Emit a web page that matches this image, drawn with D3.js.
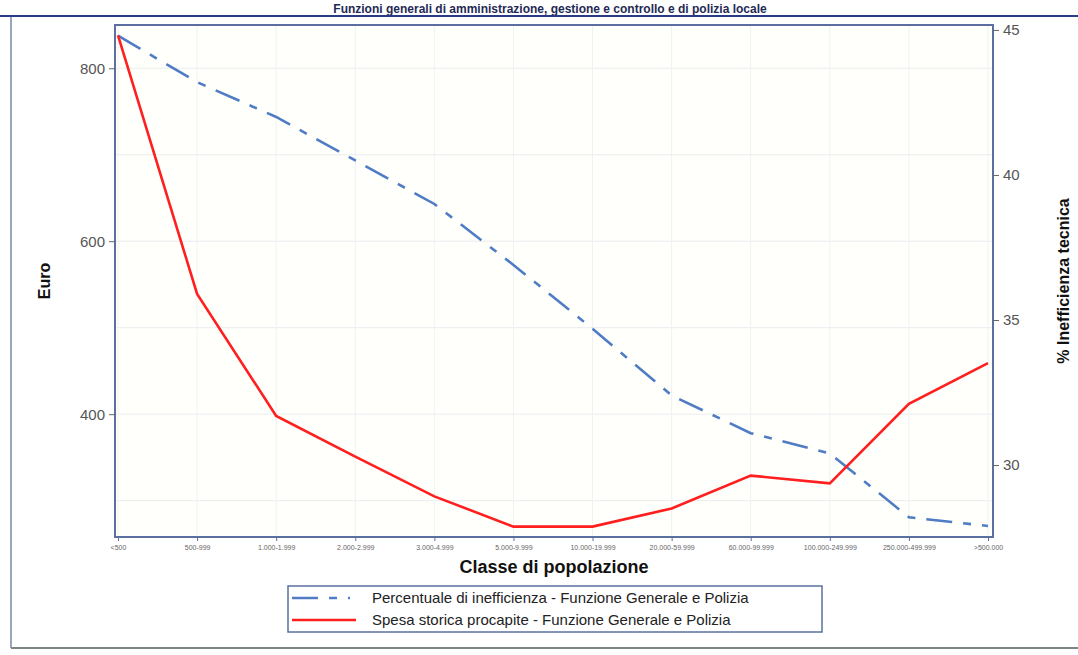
<!DOCTYPE html>
<html><head><meta charset="utf-8">
<script src="https://cdn.jsdelivr.net/npm/d3@7"></script>
<style>html,body{margin:0;padding:0;background:#fff;}svg{display:block;}</style>
</head><body>
<svg id="c" width="1078" height="655"></svg>
<script>
const categories = ["<500","500-999","1.000-1.999","2.000-2.999","3.000-4.999","5.000-9.999","10.000-19.999","20.000-59.999","60.000-99.999","100.000-249.999","250.000-499.999",">500.000"];
const spesa = [838, 539, 398, 351, 305, 270, 270, 291, 329, 320, 412, 459];
const inefficienza = [44.8, 43.2, 42.0, 40.5, 39.0, 36.9, 34.7, 32.4, 31.1, 30.4, 28.2, 27.9];
const leftTicks = [400, 600, 800];
const rightTicks = [30, 35, 40, 45];
const title = "Funzioni generali di amministrazione, gestione e controllo e di polizia locale";
const legendLabels = ["Percentuale di inefficienza - Funzione Generale e Polizia","Spesa storica procapite - Funzione Generale e Polizia"];

const svg = d3.select("#c");
const m = {l:115, r:993, t:25, b:537};

// title
svg.append("text").attr("x",550).attr("y",13).attr("text-anchor","middle")
  .attr("font-family","Liberation Sans, Arial, sans-serif").attr("font-weight","bold")
  .attr("font-size",12).attr("fill","#1f2a55").text(title);
svg.append("line").attr("x1",0).attr("x2",1078).attr("y1",16).attr("y2",16).attr("stroke","#2b3a85").attr("stroke-width",2);
// outer frame
svg.append("line").attr("x1",11).attr("x2",11).attr("y1",17).attr("y2",648).attr("stroke","#9aa6bd").attr("stroke-width",2);
svg.append("line").attr("x1",11).attr("x2",1078).attr("y1",648).attr("y2",648).attr("stroke","#7d8585").attr("stroke-width",2);

const x = d3.scalePoint().domain(categories).range([118, 988]);
const yL = d3.scaleLinear().domain([258, 850]).range([m.b, m.t]);
const yR = d3.scaleLinear().domain([27.52, 45.17]).range([m.b, m.t]);

// plot background
svg.append("rect").attr("x",m.l).attr("y",m.t).attr("width",m.r-m.l).attr("height",m.b-m.t).attr("fill","#fffffb");

// grid
const g = svg.append("g");
g.selectAll("line.h").data(d3.range(300, 900, 100)).enter().append("line")
  .attr("x1",m.l).attr("x2",m.r).attr("y1",d=>yL(d)).attr("y2",d=>yL(d))
  .attr("stroke","#eaecf0").attr("stroke-width",1);
g.selectAll("line.v").data(categories).enter().append("line")
  .attr("x1",d=>x(d)).attr("x2",d=>x(d)).attr("y1",m.t).attr("y2",m.b)
  .attr("stroke","#f0f1f4").attr("stroke-width",1);

// lines
const lineL = d3.line().x((d,i)=>x(categories[i])).y(d=>yL(d));
const lineR = d3.line().x((d,i)=>x(categories[i])).y(d=>yR(d));
svg.append("path").attr("d",lineR(inefficienza)).attr("fill","none").attr("stroke","#4f7cc4")
  .attr("stroke-width",2.6).attr("stroke-dasharray","26,11,8,11");
svg.append("path").attr("d",lineL(spesa)).attr("fill","none").attr("stroke","#ff1f1f").attr("stroke-width",2.6);

// frame
svg.append("rect").attr("x",m.l).attr("y",m.t).attr("width",m.r-m.l).attr("height",m.b-m.t)
  .attr("fill","none").attr("stroke","#5b6fa0").attr("stroke-width",2);

// axes
const axL = svg.append("g").attr("transform",`translate(${m.l},0)`)
  .call(d3.axisLeft(yL).tickValues(leftTicks).tickSize(6).tickPadding(4));
axL.select(".domain").remove();
axL.selectAll("line").attr("stroke","#666");
axL.selectAll("text").attr("font-family","Liberation Sans, Arial, sans-serif").attr("font-size",15).attr("fill","#555");

const axR = svg.append("g").attr("transform",`translate(${m.r},0)`)
  .call(d3.axisRight(yR).tickValues(rightTicks).tickSize(6).tickPadding(4));
axR.select(".domain").remove();
axR.selectAll("line").attr("stroke","#666");
axR.selectAll("text").attr("font-family","Liberation Sans, Arial, sans-serif").attr("font-size",15).attr("fill","#555");

const axB = svg.append("g").attr("transform",`translate(0,${m.b})`)
  .call(d3.axisBottom(x).tickSize(4).tickPadding(4));
axB.select(".domain").remove();
axB.selectAll("line").attr("stroke","#5b6fa0");
axB.selectAll("text").attr("font-family","Liberation Sans, Arial, sans-serif").attr("font-size",7).attr("fill","#666");

// axis titles
const tf = "Liberation Sans, Arial, sans-serif";
svg.append("text").attr("transform","translate(50,281) rotate(-90)").attr("text-anchor","middle")
  .attr("font-family",tf).attr("font-weight","bold").attr("font-size",16).attr("fill","#111").text("Euro");
svg.append("text").attr("transform","translate(1069,281) rotate(-90)").attr("text-anchor","middle")
  .attr("font-family",tf).attr("font-weight","bold").attr("font-size",16).attr("fill","#111").text("% Inefficienza tecnica");
svg.append("text").attr("x",554).attr("y",573).attr("text-anchor","middle")
  .attr("font-family",tf).attr("font-weight","bold").attr("font-size",18).attr("fill","#111").text("Classe di popolazione");

// legend
const lg = svg.append("g");
lg.append("rect").attr("x",288).attr("y",586).attr("width",534).attr("height",46).attr("fill","#fff").attr("stroke","#5b6fa0").attr("stroke-width",1.5);
lg.append("line").attr("x1",292).attr("x2",350).attr("y1",598).attr("y2",598).attr("stroke","#4f7cc4").attr("stroke-width",2.6).attr("stroke-dasharray","26,11,8,11");
lg.append("line").attr("x1",292).attr("x2",356).attr("y1",620).attr("y2",620).attr("stroke","#ff1f1f").attr("stroke-width",2.6);
lg.selectAll("text").data(legendLabels).enter().append("text")
  .attr("x",372).attr("y",(d,i)=>603+i*22).attr("font-family",tf).attr("font-size",15).attr("fill","#222").text(d=>d);
</script>
</body></html>
